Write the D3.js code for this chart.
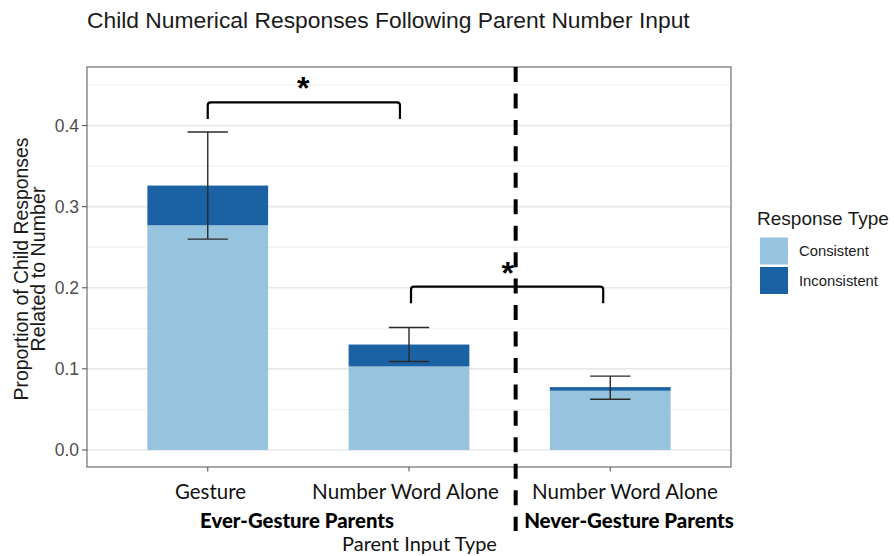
<!DOCTYPE html>
<html>
<head>
<meta charset="utf-8">
<script src="https://cdn.jsdelivr.net/npm/d3@7/dist/d3.min.js"></script>
<style>
  html, body { margin: 0; padding: 0; background: #fff; }
  svg { display: block; }
</style>
</head>
<body>
<svg id="chart" width="894" height="556"></svg>
<script>
// ---- data ----
const categories = ["Gesture", "Number Word Alone (ever)", "Number Word Alone (never)"];
const categoryLabels = ["Gesture", "Number Word Alone", "Number Word Alone"];
const consistent = [0.277, 0.103, 0.073];
const inconsistent = [0.049, 0.027, 0.0045];
const errLow = [0.260, 0.109, 0.0625];
const errHigh = [0.392, 0.151, 0.091];
const yTicks = [0.0, 0.1, 0.2, 0.3, 0.4];
const yTickLabels = ["0.0", "0.1", "0.2", "0.3", "0.4"];
const yMinor = [0.05, 0.15, 0.25, 0.35, 0.45];
const seriesNames = ["Consistent", "Inconsistent"];
const groupLabels = ["Ever-Gesture Parents", "Never-Gesture Parents"];
// significance brackets: [from, to] on the category axis, bracket height, leg end
const brackets = [
  { x0: 1.0, x1: 1.955, y: 0.4287, yEnd: 0.408, starX: 1.475, starY: 0.4537 },
  { x0: 2.01, x1: 2.965, y: 0.2015, yEnd: 0.181, starX: 2.49, starY: 0.2256 }
];
const dividerX = 2.53;

const colors = { Consistent: "#96c3dd", Inconsistent: "#1b62a5" };

// ---- layout ----
const svg = d3.select("#chart");
const panel = { left: 87, right: 731, top: 67, bottom: 467 };

const x = d3.scaleLinear().domain([0.4, 3.6]).range([panel.left, panel.right]);
const y = d3.scaleLinear().domain([-0.0210, 0.4722]).range([panel.bottom, panel.top]);

function fitWidth(sel, target) {
  const node = sel.node();
  const base = parseFloat(sel.attr("font-size"));
  const w = node.getComputedTextLength();
  sel.attr("font-size", (base * target / w).toFixed(2));
  return sel;
}

const sansFont = "'Liberation Sans', Arial, Helvetica, sans-serif";
const geoFont = "Lato, 'Noto Sans', sans-serif";

// title
fitWidth(svg.append("text")
  .attr("x", panel.left).attr("y", 28)
  .attr("font-family", sansFont).attr("font-size", 20)
  .attr("fill", "#1a1a1a")
  .text("Child Numerical Responses Following Parent Number Input"), 603);

// grid
const grid = svg.append("g");
grid.selectAll("line.minor").data(yMinor).join("line")
  .attr("x1", panel.left).attr("x2", panel.right)
  .attr("y1", d => y(d)).attr("y2", d => y(d))
  .attr("stroke", "#efefef").attr("stroke-width", 1);
grid.selectAll("line.major").data(yTicks).join("line")
  .attr("x1", panel.left).attr("x2", panel.right)
  .attr("y1", d => y(d)).attr("y2", d => y(d))
  .attr("stroke", "#e8e8e8").attr("stroke-width", 1.6);

// stacked bars
const barW = 0.6;
const stacked = categories.map((c, i) => ({
  i,
  parts: [
    { key: "Consistent", y0: 0, y1: consistent[i] },
    { key: "Inconsistent", y0: consistent[i], y1: consistent[i] + inconsistent[i] }
  ]
}));
const bars = svg.append("g");
stacked.forEach(s => {
  bars.selectAll(null).data(s.parts).join("rect")
    .attr("x", x(s.i + 1 - barW / 2))
    .attr("width", x(s.i + 1 + barW / 2) - x(s.i + 1 - barW / 2))
    .attr("y", d => y(d.y1))
    .attr("height", d => y(d.y0) - y(d.y1))
    .attr("fill", d => colors[d.key]);
});

// error bars
const ebW = 0.1;
const eb = svg.append("g").attr("stroke", "#2a2a2a").attr("stroke-width", 1.4).attr("fill", "none");
categories.forEach((c, i) => {
  const cx = x(i + 1);
  eb.append("line").attr("x1", cx).attr("x2", cx).attr("y1", y(errLow[i])).attr("y2", y(errHigh[i]));
  eb.append("line").attr("x1", x(i + 1 - ebW)).attr("x2", x(i + 1 + ebW)).attr("y1", y(errLow[i])).attr("y2", y(errLow[i]));
  eb.append("line").attr("x1", x(i + 1 - ebW)).attr("x2", x(i + 1 + ebW)).attr("y1", y(errHigh[i])).attr("y2", y(errHigh[i]));
});

// panel border
svg.append("rect")
  .attr("x", panel.left).attr("y", panel.top)
  .attr("width", panel.right - panel.left).attr("height", panel.bottom - panel.top)
  .attr("fill", "none").attr("stroke", "#6e6e6e").attr("stroke-width", 1.2);

// y axis
const yAxis = svg.append("g");
yAxis.selectAll("line").data(yTicks).join("line")
  .attr("x1", panel.left - 5).attr("x2", panel.left)
  .attr("y1", d => y(d)).attr("y2", d => y(d))
  .attr("stroke", "#555").attr("stroke-width", 1.1);
yAxis.selectAll("text").data(yTicks).join("text")
  .attr("x", panel.left - 8).attr("y", d => y(d))
  .attr("dy", "0.35em").attr("text-anchor", "end")
  .attr("font-family", sansFont).attr("font-size", 17.5)
  .attr("fill", "#4d4d4d")
  .text((d, i) => yTickLabels[i]);

// y axis title (two lines)
const yTitle = [["Proportion of Child Responses", 28, 263], ["Related to Number", 45, 165]];
yTitle.forEach(([t, bx, w]) => {
  fitWidth(svg.append("text")
    .attr("transform", `translate(${bx},269) rotate(-90)`)
    .attr("text-anchor", "middle")
    .attr("font-family", sansFont).attr("font-size", 19)
    .attr("fill", "#1a1a1a").text(t), w);
});

// x ticks
svg.append("g").selectAll("line").data(categories).join("line")
  .attr("x1", (d, i) => x(i + 1)).attr("x2", (d, i) => x(i + 1))
  .attr("y1", panel.bottom).attr("y2", panel.bottom + 4.5)
  .attr("stroke", "#555").attr("stroke-width", 1.1);

// x category labels
const xLabelPos = [
  { cx: 210.5, w: 71 },
  { cx: 405.5, w: 187 },
  { cx: 625, w: 186 }
];
categoryLabels.forEach((t, i) => {
  fitWidth(svg.append("text")
    .attr("x", xLabelPos[i].cx).attr("y", 499)
    .attr("text-anchor", "middle")
    .attr("font-family", geoFont).attr("font-size", 17)
    .attr("fill", "#111").text(t), xLabelPos[i].w);
});

// group labels
const groupPos = [{ cx: 297, w: 194 }, { cx: 629, w: 210 }];
groupLabels.forEach((t, i) => {
  fitWidth(svg.append("text")
    .attr("x", groupPos[i].cx).attr("y", 528)
    .attr("text-anchor", "middle")
    .attr("font-family", geoFont).attr("font-weight", 900).attr("font-size", 17)
    .attr("fill", "#000").text(t), groupPos[i].w);
});

// x axis title
fitWidth(svg.append("text")
  .attr("x", 419.5).attr("y", 551)
  .attr("text-anchor", "middle")
  .attr("font-family", geoFont).attr("font-size", 17)
  .attr("fill", "#111").text("Parent Input Type"), 155);

// significance brackets
const br = svg.append("g").attr("fill", "none").attr("stroke", "#000").attr("stroke-width", 2.2)
  .attr("stroke-linejoin", "round").attr("stroke-linecap", "butt");
brackets.forEach(b => {
  const r = 3;
  const x0 = x(b.x0), x1 = x(b.x1), yt = y(b.y), ye = y(b.yEnd);
  br.append("path").attr("d",
    `M${x0},${ye} L${x0},${yt + r} Q${x0},${yt} ${x0 + r},${yt} L${x1 - r},${yt} Q${x1},${yt} ${x1},${yt + r} L${x1},${ye}`);
  svg.append("text")
    .attr("x", x(b.starX)).attr("y", y(b.starY) + 17)
    .attr("text-anchor", "middle")
    .attr("font-family", sansFont).attr("font-weight", "bold").attr("font-size", 32)
    .attr("fill", "#000").text("*");
});

// dashed divider between parent groups
svg.append("line")
  .attr("x1", x(dividerX)).attr("x2", x(dividerX))
  .attr("y1", y(0.4722)).attr("y2", y(-0.1))
  .attr("stroke", "#000").attr("stroke-width", 4)
  .attr("stroke-dasharray", "15 11.45");

// legend
const lg = svg.append("g");
fitWidth(lg.append("text")
  .attr("x", 757).attr("y", 225)
  .attr("font-family", sansFont).attr("font-size", 19)
  .attr("fill", "#1a1a1a").text("Response Type"), 132);
seriesNames.forEach((s, i) => {
  const top = 237.5 + i * 29.5;
  lg.append("rect")
    .attr("x", 760).attr("y", top).attr("width", 28).attr("height", 27)
    .attr("fill", colors[s]);
  fitWidth(lg.append("text")
    .attr("x", 799).attr("y", top + 13.5).attr("dy", "0.35em")
    .attr("font-family", sansFont).attr("font-size", 15)
    .attr("fill", "#1a1a1a").text(s), i === 0 ? 70 : 79);
});
</script>
</body>
</html>
